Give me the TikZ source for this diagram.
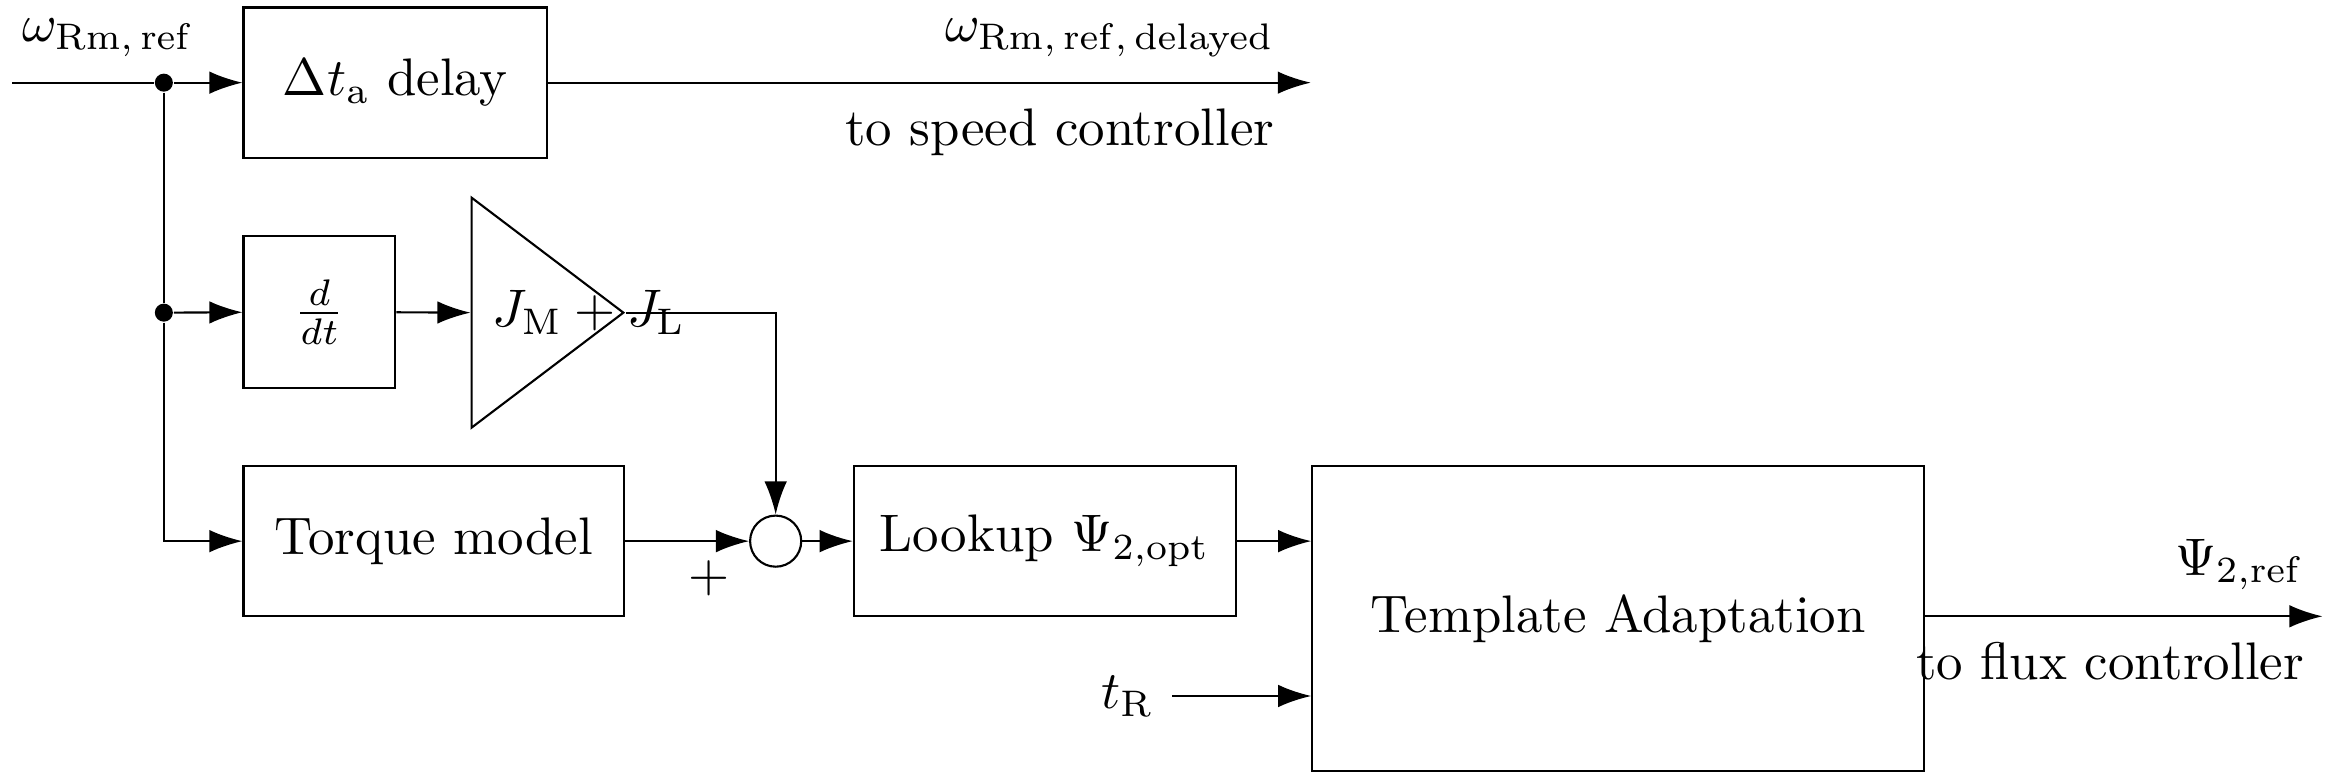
\documentclass[tikz,border=0pt]{standalone}
\usetikzlibrary{shapes.geometric,arrows.meta}
\begin{document}
\begin{tikzpicture}[
    blk/.style = {draw, inner sep=0pt},
    sig/.style = {-{Latex[length=2.2mm,width=1.5mm]}},
    dot/.style = {circle, fill=black, inner sep=0pt, minimum size=1.2mm},
    every node/.style = {font=\normalsize}
  ]
  \useasboundingbox (0,0) rectangle (15.5,-5.18);
  % blocks
  \node[blk, minimum width=2.02cm, minimum height=1.0cm] (del) at (2.63,-0.55) {$\Delta t_\mathrm{a}$ delay};
  \node[blk, minimum width=1.01cm, minimum height=1.01cm] (ddt) at (2.125,-2.075) {$\frac{d}{dt}$};
  \node[blk, isosceles triangle, isosceles triangle stretches, shape border rotate=0,
        minimum width=1.53cm, minimum height=1.01cm, anchor=west, inner sep=0pt] (gain) at (3.13,-2.08) {};
  \node[anchor=west, inner sep=0pt] (gl) at (3.27,-2.08) {$J_\mathrm{M}+J_\mathrm{L}$};
  \node[blk, minimum width=2.53cm, minimum height=1.0cm] (tq) at (2.885,-3.6) {Torque model};
  \node[draw, circle, minimum size=0.34cm, inner sep=0pt] (sum) at (5.16,-3.6) {};
  \node[blk, minimum width=2.54cm, minimum height=1.0cm] (lut) at (6.95,-3.6) {Lookup $\Psi_{2,\mathrm{opt}}$};
  \node[blk, minimum width=4.07cm, minimum height=2.03cm] (ta) at (10.765,-4.115) {Template Adaptation};
  % points
  \coordinate (in) at (0.08,-0.55);
  \node[dot] (j1) at (1.09,-0.55) {};
  \node[dot] (j2) at (1.09,-2.08) {};
  \coordinate (outw) at (8.72,-0.55);
  \coordinate (outp) at (15.45,-4.1);
  \coordinate (bend) at (5.16,-2.08);
  \node (tr) at (7.5,-4.63) {$t_\mathrm{R}$};
  % labels
  \node[anchor=south] at (0.72,-0.5) {$\omega_{\mathrm{Rm,\,ref}}$};
  \node[anchor=south east] at (8.6,-0.5) {$\omega_{\mathrm{Rm,\,ref,\,delayed}}$};
  \node[anchor=north east] at (8.6,-0.6) {to speed controller};
  \node[anchor=south east] at (15.45,-4.05) {$\Psi_{2,\mathrm{ref}}$};
  \node[anchor=north east] at (15.45,-4.15) {to flux controller};
  \node at (4.72,-3.85) {$+$};
  % connectors
  \draw (in) -- (j1);
  \draw[sig] (j1) -- (del);
  \draw[sig] (del) -- (outw);
  \draw (j1) -- (j2);
  \draw[sig] (j2) -- (ddt);
  \draw[sig] (j2) |- (tq);
  \draw[sig] (ddt) -- (gain.west);
  \draw[sig] (gain.apex) -- (bend) -- (sum);
  \draw[sig] (tq) -- (sum);
  \draw[sig] (sum) -- (lut);
  \draw[sig] (lut) -- (lut -| ta.west);
  \draw[sig] (tr) -- (tr -| ta.west);
  \draw[sig] (ta.east |- outp) -- (outp);
\end{tikzpicture}
\end{document}
